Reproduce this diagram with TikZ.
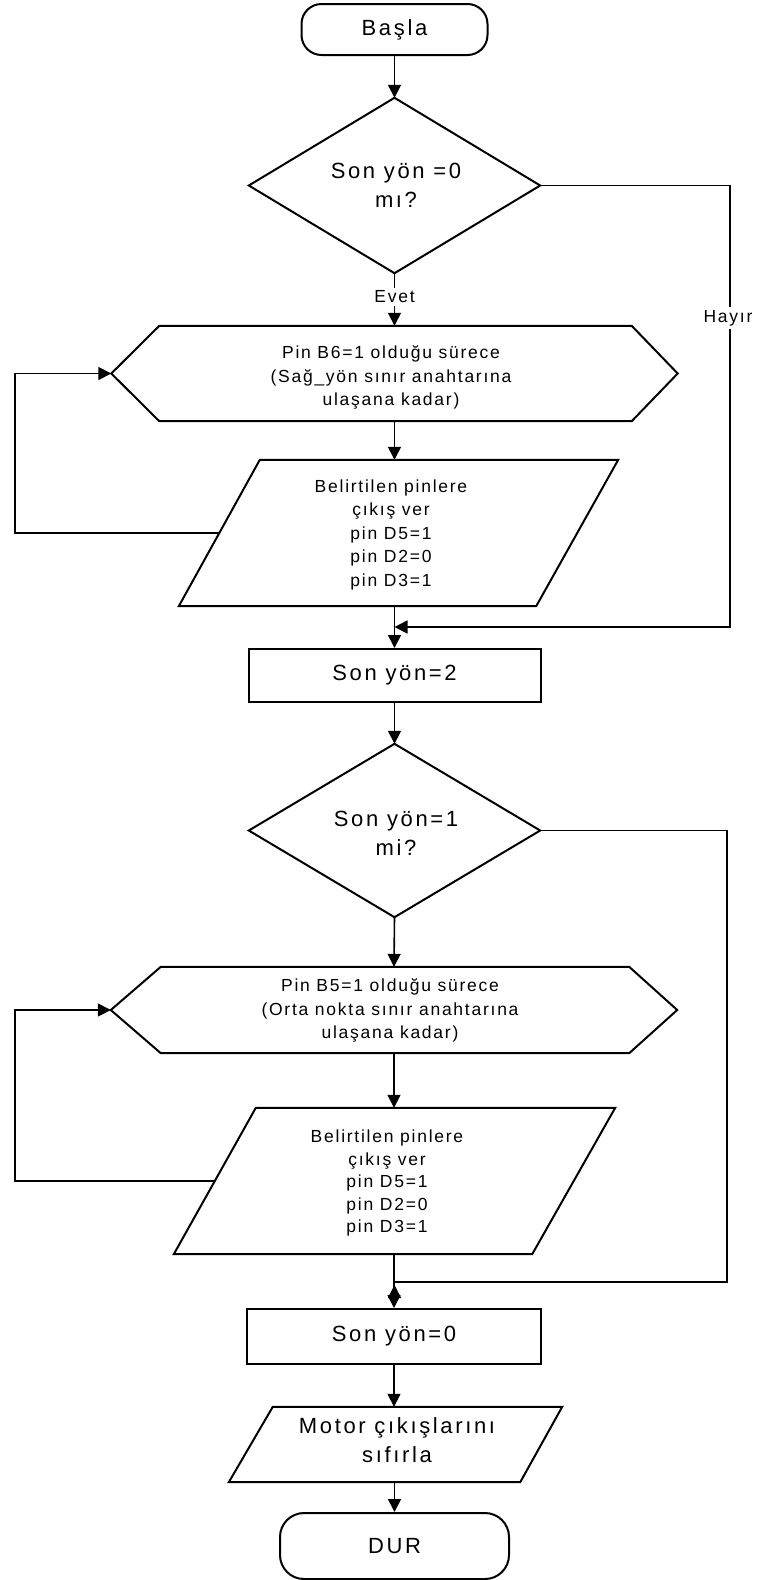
\documentclass[tikz,border=0pt]{standalone}
\usepackage{fontspec}
\setmainfont{Liberation Sans}
\newfontfamily\titlefont{Liberation Sans}[LetterSpace=12]
\newfontfamily\notefont{Liberation Sans}[LetterSpace=10]
\usetikzlibrary{arrows.meta,calc}

\begin{document}
\begin{tikzpicture}[x=1pt,y=-1pt,
  outline/.style={draw=black, line width=2pt, line join=miter},
  conn/.style={line width=1.6pt, -{Triangle[length=13pt,width=13pt]}},
  plainline/.style={line width=1.6pt},
  frame/.style={rectangle, draw=none, inner sep=0pt},
  bigtext/.style={font=\titlefont\fontsize{22}{29}\selectfont, align=center, inner sep=0pt},
  smalltext/.style={font=\notefont\fontsize{17.5}{23.5}\selectfont, align=center, inner sep=0pt},
  term/.style={rectangle, draw=black, line width=2pt, inner sep=0pt,
    font=\titlefont\fontsize{22}{29}\selectfont},
  procbox/.style={rectangle, draw=black, line width=2pt, inner sep=0pt,
    font=\titlefont\fontsize{22}{29}\selectfont},
  tag/.style={font=\notefont\fontsize{17.5}{23.5}\selectfont, fill=white, inner sep=3pt}
]
\useasboundingbox (0,0) rectangle (759,1580);
\fill[white] (0,0) rectangle (759,1580);

% rails for the loop-backs and the "no" branches
\coordinate (railL) at (15,0);
\coordinate (railR) at (730,0);
\coordinate (railR2) at (727,0);
\coordinate (joinA) at (394.5,627);
\coordinate (joinB) at (394.5,1282);
\coordinate (upfrom) at (394.5,1297);
\coordinate (uptip) at (394.5,1285);

% ---- start
\node[term, minimum width=186pt, minimum height=51pt, rounded corners=20pt] (start) at (394.5,29.5) {Başla};

% ---- first decision
\node[frame, minimum width=291pt, minimum height=175pt] (d1) at (394.5,185.5) {};
\draw[outline] (d1.north) -- (d1.east) -- (d1.south) -- (d1.west) -- cycle;
\node[bigtext] (d1t) at (396,185) {Son yön =0\\mı?};

% ---- first loop header
\node[frame, minimum width=566pt, minimum height=95pt] (h1) at (394.5,373.5) {};
\draw[outline] (h1.west) -- ([xshift=48pt]h1.north west) -- ([xshift=-46pt]h1.north east)
  -- (h1.east) -- ([xshift=-46pt]h1.south east) -- ([xshift=48pt]h1.south west) -- cycle;
\node[smalltext] (h1t) at (391,377.5) {Pin B6=1 olduğu sürece\\(Sağ\_yön sınır anahtarına\\ulaşana kadar)};

% ---- first output block
\node[frame, minimum width=439pt, minimum height=146pt] (p1) at (398.5,533) {};
\draw[outline] ([xshift=81pt]p1.north west) -- (p1.north east) -- ([xshift=-82pt]p1.south east)
  -- (p1.south west) -- cycle;
\node[smalltext] (p1t) at (391,534.5) {Belirtilen pinlere\\çıkış ver\\pin D5=1\\pin D2=0\\pin D3=1};
\coordinate (p1l) at ($([xshift=81pt]p1.north west)!0.5!(p1.south west)$);

% ---- Son yön=2
\node[procbox, minimum width=292pt, minimum height=53pt] (b2) at (394.5,675.5) {Son yön=2};

% ---- second decision
\node[frame, minimum width=291pt, minimum height=173pt] (d2) at (394.5,830.5) {};
\draw[outline] (d2.north) -- (d2.east) -- (d2.south) -- (d2.west) -- cycle;
\node[bigtext] (d2t) at (396,833) {Son yön=1\\mi?};

% ---- second loop header
\node[frame, minimum width=566pt, minimum height=86pt] (h2) at (394,1010) {};
\draw[outline] (h2.west) -- ([xshift=50pt]h2.north west) -- ([xshift=-48pt]h2.north east)
  -- (h2.east) -- ([xshift=-48pt]h2.south east) -- ([xshift=50pt]h2.south west) -- cycle;
\node[smalltext] (h2t) at (390,1010.5) {Pin B5=1 olduğu sürece\\(Orta nokta sınır anahtarına\\ulaşana kadar)};

% ---- second output block
\node[frame, minimum width=441pt, minimum height=146pt] (p2) at (394.5,1181) {};
\draw[outline] ([xshift=82pt]p2.north west) -- (p2.north east) -- ([xshift=-83pt]p2.south east)
  -- (p2.south west) -- cycle;
\node[smalltext, font=\notefont\fontsize{17.5}{22.5}\selectfont] (p2t) at (387,1183) {Belirtilen pinlere\\çıkış ver\\pin D5=1\\pin D2=0\\pin D3=1};
\coordinate (p2l) at ($([xshift=82pt]p2.north west)!0.5!(p2.south west)$);

% ---- Son yön=0
\node[procbox, minimum width=294pt, minimum height=55pt] (b3) at (394,1336.5) {Son yön=0};

% ---- motor outputs
\node[frame, minimum width=333pt, minimum height=75pt] (p3) at (395.5,1444.5) {};
\draw[outline] ([xshift=44pt]p3.north west) -- (p3.north east) -- ([xshift=-42pt]p3.south east)
  -- (p3.south west) -- cycle;
\node[bigtext] (p3t) at (397,1440) {Motor çıkışlarını\\sıfırla};

% ---- stop
\node[term, minimum width=229pt, minimum height=66pt, rounded corners=24pt] (stop) at (394.5,1546) {DUR};

% ---- connectors
\draw[conn] (start.south) -- (d1.north);
\draw[conn] (d1.south) -- (h1.north);
\node[tag] (evet) at (394.5,297) {Evet};
\draw[conn] (h1.south) -- (h1.south |- p1.north);
\draw[conn] (p1l) -- (p1l -| railL) |- (h1.west);
\draw[conn] (p1.south -| b2.north) -- (b2.north);
\draw[conn] (d1.east) -- (d1.east -| railR) -- (railR |- joinA) -- (joinA);
\node[tag] (hayir) at (728,318) {Hayır};
\draw[conn] (b2.south) -- (d2.north);
\draw[plainline] (d2.east) -- (d2.east -| railR2) -- (railR2 |- joinB) -- (joinB);
\draw[conn] (d2.south) -- (h2.north);
\draw[conn] (h2.south) -- (h2.south |- p2.north);
\draw[conn] (p2l) -- (p2l -| railL) |- (h2.west);
\draw[conn] (p2.south -| b3.north) -- (b3.north);
\draw[conn] (upfrom) -- (uptip);
\draw[conn] (b3.south) -- (b3.south |- p3.north);
\draw[conn] (p3.south -| stop.north) -- (stop.north);
\end{tikzpicture}
\end{document}
